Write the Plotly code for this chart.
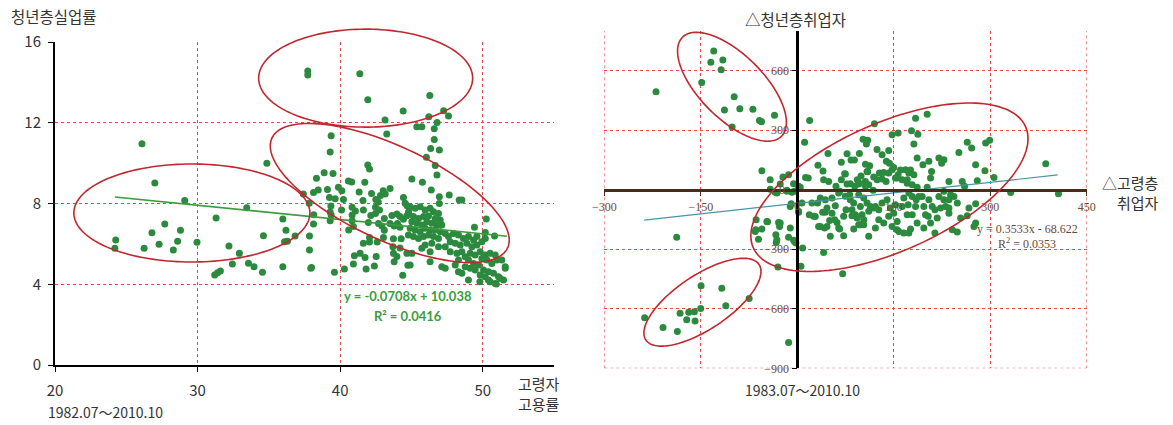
import numpy as np
import plotly.graph_objects as go

# ---------------- data ----------------
# Left panel: elderly employment rate (%) vs youth unemployment rate (%), 1982.07-2010.10
elder_emp_rate = [
    26.1, 27.0, 29.1, 24.26, 24.2, 26.25, 26.8, 27.3, 27.7, 28.3, 28.6, 28.8, 29.96, 31.3, 31.2, 31.4,
    31.6, 32.2, 32.44, 32.93, 33.45, 33.57, 33.96, 34.55, 34.62, 35.98, 35.98, 36.2, 36.1, 36.3, 36.84, 34.86,
    37.73, 37.73, 41.38, 41.94, 46.29, 44.42, 43.15, 47.26, 47.6, 46.22, 46.8, 45.38, 45.73, 46.6,
    43.27, 39.37, 39.3, 41.94, 42.06, 38.88, 39.5, 38.34, 40.58, 40.81, 41.73, 37.42, 38.13, 38.46, 39.11,
    39.88, 40.12, 41.33, 42.2, 43.02, 43.5, 42.83, 43.16, 39.25, 39.65, 40.23, 41.6, 42.5, 42.67, 44.44,
    37.83, 39.35, 40.84, 42.48, 44.7, 39.3, 40.1, 41.07, 41.63, 42.76, 44.8, 38.15, 39.37, 40.84, 42.15,
    42.48, 43.1, 43.63, 43.98, 44.2, 44.44, 44.68, 40.84, 40.93, 41.98, 42.69, 42.93, 43.1, 43.5, 43.79,
    44.02, 44.2, 38.13, 39.3, 37.85, 40.6, 43.04, 42.06, 43.74, 44.28, 41.63, 42.06, 42.6, 43.7, 44.2,
    37.85, 41.4, 41.0, 41.75, 42.53, 43.74, 43.98, 40.93, 43.79, 42.4, 41.82, 37.99, 39.6, 40.3, 44.39,
    44.75, 37.94,
    46.6, 46.35, 46.96, 46.05, 46.67, 46.79, 45.03, 45.77, 46.39, 46.96, 47.65, 48.35, 48.54, 50.25, 49.42,
    50.18, 50.83, 50.18, 46.96,
    44.56, 44.91, 45.26, 45.61, 45.96, 46.31, 46.55, 46.9, 44.79, 45.14, 45.5, 45.85, 46.2, 46.67, 47.02,
    45.03, 45.38, 45.73, 46.08, 46.43, 46.78, 47.13, 44.91, 45.26, 45.61, 45.96, 46.31, 46.67, 47.02, 44.79,
    45.14, 45.5, 45.85, 46.2, 46.55, 46.9, 47.37, 47.6, 47.95, 48.3, 48.65, 49.0, 49.36, 49.59, 49.94,
    47.72, 48.07, 48.42, 48.89, 49.24, 49.59, 47.37, 46.9, 46.43, 45.96, 46.31, 45.73, 45.03, 47.72, 48.19,
    48.54, 48.77, 49.12, 49.47, 49.82, 50.17, 50.52, 50.88, 51.0, 51.34, 51.58, 49.94, 50.29, 50.64, 49.0,
    49.36, 49.71, 48.3, 48.07, 48.77, 49.12, 49.47, 50.06, 50.41, 50.76, 51.11, 51.46, 50.52, 50.88, 50.17,
    49.82, 48.3, 48.54, 47.13, 47.37, 46.31, 44.91, 44.68,
    49.0, 49.8, 50.95, 50.4, 51.23, 51.58,
]
youth_unemp_rate = [
    10.96, 9.01, 8.15, 6.19, 5.78, 5.78, 6.55, 5.98, 6.98, 5.70, 6.13, 6.67, 6.08, 7.28, 4.46, 4.57,
    4.66, 5.89, 5.0, 5.53, 7.79, 5.04, 4.87, 4.59, 6.40, 7.23, 4.87, 6.67, 6.1, 6.13, 6.39, 9.99,
    14.56, 14.36, 14.43, 13.14, 13.35, 12.58, 12.14, 12.6, 12.33, 12.3, 12.01, 11.8, 11.8, 11.7,
    11.44, 11.36, 10.55, 9.91, 9.71, 9.52, 9.49, 9.25, 9.11, 9.06, 9.05, 8.47, 8.55, 8.67, 8.69,
    8.80, 8.63, 8.57, 8.50, 8.63, 8.74, 8.40, 8.47, 8.30, 8.24, 8.20, 8.15, 8.20, 8.07, 8.30,
    8.01, 7.88, 7.81, 7.81, 7.89, 7.58, 7.68, 7.63, 7.68, 7.68, 7.59, 7.44, 7.43, 7.43, 7.41,
    7.51, 7.26, 7.41, 7.48, 7.35, 7.22, 7.39, 7.15, 6.86, 7.06, 7.01, 6.88, 6.68, 7.01, 6.88,
    7.01, 6.82, 6.98, 7.15, 6.39, 6.69, 6.32, 6.32, 6.25, 6.25, 6.03, 6.09, 6.09, 5.86, 5.80,
    5.70, 5.53, 5.41, 5.33, 5.37, 5.53, 5.37, 5.00, 5.12, 4.90, 4.75, 4.83, 4.59, 4.75, 4.44,
    4.94, 4.79,
    11.17, 10.73, 10.65, 10.29, 9.88, 9.41, 9.21, 9.05, 8.67, 8.34, 8.42, 8.17, 8.17, 7.23, 6.82,
    6.56, 6.39, 6.27, 8.0,
    8.01, 7.84, 7.76, 7.84, 7.68, 7.76, 7.59, 7.51, 7.51, 7.35, 7.26, 7.35, 7.38, 7.26, 7.18,
    7.1, 7.02, 6.93, 7.1, 7.02, 6.93, 6.93, 6.77, 6.69, 6.6, 6.77, 6.69, 6.69, 6.6, 6.44,
    6.36, 6.27, 6.36, 6.44, 6.36, 6.27, 6.52, 6.36, 6.52, 6.44, 6.27, 6.36, 6.19, 6.36, 6.11,
    6.11, 6.03, 5.94, 6.03, 5.86, 5.94, 5.86, 5.86, 6.03, 5.94, 5.61, 5.78, 5.53, 5.61, 5.53,
    5.61, 5.36, 5.53, 5.45, 5.61, 5.45, 5.53, 5.45, 5.2, 5.2, 4.87, 5.28, 5.2, 5.03, 5.2,
    5.03, 4.95, 5.2, 4.95, 4.87, 4.79, 4.7, 4.7, 4.62, 4.54, 4.37, 4.21, 4.13, 4.04, 4.37,
    4.46, 4.62, 4.54, 4.87, 4.79, 5.12, 4.95, 5.53,
    4.21, 4.13, 4.01, 4.21, 4.29, 4.79,
]

# Right panel: change in elderly employment vs change in youth employment (thousand), 1983.07-2010.10
d_elder_emp = [
    -129.8, -134.4, -115.7, -118.4, -148.5, -219.6, -98.1, -113.2, -89.3, -69.0, -58.7, -55.6, -35.4, -101.3,
    19.2, 11.4, -55.0, -42.1, -22.3, -13.5, -26.5, -5.7, -42.0, -16.0, -8.3, -31.6, 2.0, 12.9, 17.1, 32.2,
    40.0, 47.8, 41.0, 48.8, 68.5, 77.4, 83.6, 88.8, 74.8, 96.6, 106.0, 109.5, 102.3, 109.5, 107.5, 120.0,
    124.0, 112.6, 77.4, 95.5, 99.2, 66.0, 81.5, 106.0, 118.0,
    131.9, 142.2, 147.4, 156.8, 138.6, 143.3, 150.0, 127.7, 134.4, 142.2, 147.4, 152.6, 156.8, 131.8, 138.1,
    118.9, 124.1, 108.5, 105.9, 111.1, 93.4, 96.5, 82.5, 89.3, 73.7, 68.5, 60.2, 64.4, 74.7, 82.5,
    87.7, 95.5, 103.3, 108.5, 113.7, 98.1, 85.1, 90.3, 100.7, 103.3, 111.1, 121.5, 126.7, 131.8, 139.6,
    144.8, 152.6, 126.7, 134.4, 142.2, 150.0, 147.4, 155.2, 121.5, 111.1, 95.5, 72.1, 72.1, 64.4, 58.1,
    51.4, 42.5, 33.2, 54.0, 46.2, 59.2, 39.5, 28.0, 18.7, 31.6, 43.6, 22.8, 7.2, 2.0, 35.8,
    54.0, -4.2, -9.4, 2.0, 4.6, -34.3, -16.1, -63.9, -55.1, -46.2, -29.1, -27.5, -33.3, -31.7, -10.9,
    -13.5, -4.2, -2.1, -60.3, -64.4, 8.3, -30.1, 5.7, 41.0, 70.6,
    -187.4, -149.5, -117.3, -74.8, -111.1, -150.1, -159.9, -158.9, -168.7, -171.9, -182.2, -237.3, -208.7,
    -186.4, -13.5, -10.9, 2.1, -47.3, -26.5, -65.4, -32.7, -5.7, 25.4, 35.8, 46.2, 43.6, 50.4, 61.8, 65.9,
    87.8, 98.1, 75.8, 85.1, 92.9, 103.3, 118.9,
    202.0, 183.9, 177.6, 187.5, 181.3, 264.3, 271.1, 292.9, 299.1, 251.3, 277.3, 291.8, 305.9, 279.9, 256.5,
    260.2, 235.8, 220.2, 228.0, 224.4, 204.6, 195.3, 208.8, 207.2, 186.4, 176.1, 168.3, 181.3, 173.5, 160.5,
    155.3, 163.1, 170.9, 178.7, 186.4, 202.0, 228.0, 238.4, 220.2, 228.0, 235.8, 230.6, 235.8, 222.8, 209.8,
    214.0, 204.6, 194.2, 184.9, 189.0, 173.5, 178.7, 165.7, 163.1, 172.4, 183.9, 196.8, 199.4, 203.6, 217.6,
    207.2, 235.8, 254.0, 264.3, 266.9, 277.3, 248.8, 243.6, 277.3, 241.0, 248.8, 214.0, 196.8, 186.4, 176.1,
    157.9, 165.7, 173.5, 155.3, 170.9, 178.7, 331.8, 386.3, 406.1, 274.7, 171.0,
]
d_youth_emp = [
    699, 642, 654, 605, 540, 494, 469, 402, 408, 405, 349, 343, 375, 316,
    349, 239, 96, 50, 64, 76, 29, 30, 3, -3, -13, -17, 17, 62, 59, 123,
    94, 183, 50, 42, 138, 181, 150, 150, 79, 183, 129, 91, 254, 249, 230, 333,
    203, 121, 29, 29, 69, -8, -25, 17, -3,
    176, 198, 277, 286, 143, 134, 112, 84, 87, 84, 101, 59, 76, 54, 42,
    64, 50, 92, 42, 25, 50, 33, 30, 17, 81, 50, 17, -17, -33, -50,
    -67, -25, -42, -67, -84, -84, -101, -126, -126, -151, -109, -84, -101, -67, -50,
    -92, -76, -151, -168, -134, -118, -185, -202, -193, -235, -177, -134, -232, -193, -151,
    -235, -193, -185, -118, -92, -81, -114, -135, -126, -67, -50, -67, -67, -109, -42,
    -42, -8, -71, 8, 12, -13, -8, -151, -198, -161, -165, -185, -227, -252, -193,
    -239, -261, -269, -249, -202, -294, -390, -386, -316, -424,
    -240, -484, -496, -548, -585, -598, -615, -662, -617, -655, -622, -645, -694,
    -714, -770, -84, -113, -160, -168, -210, -266, -255, -134, -185, -185, -114, -155, -165, -198,
    -198, -176, -101, -131, -143, -176, -92,
    380, 360, 297, 279, 230, 239, 210, 235, 249, 188, 126, 96, 62, 45, 42,
    17, 42, 160, 151, 134, 143, 126, 92, 59, 160, 99, 101, 75, 84, 99,
    59, 50, 33, 25, 13, 13, -8, -25, -34, -50, -50, -84, -92, -92, -84,
    -101, -50, -34, -50, -34, -17, -34, -42, -84, -76, -84, -84, -126, -134, -143,
    -168, -118, -143, -131, -92, -71, -67, -34, -168, -202, -213, -218, -193, -168, -198,
    -210, -218, -218, -160, -126, -126, -14, 131, -20, -185, 50,
]

# Linear fits: slope, intercept, R^2 and the x span the fitted line covers
left_fit = (-0.0708, 10.038, 0.0416)
left_fit_span = [24.2, 51.7]
right_fit = (0.3533, -68.622, 0.0353)
right_fit_span = [-238.0, 405.0]

left_xticks = [20, 30, 40, 50]
left_yticks = [0, 4, 8, 12, 16]
# zero is labelled separately where the two axes cross
right_xticks = [-300, -150, 150, 300, 450]
right_yticks = [-900, -600, -300, 300, 600]

# ---------------- layout geometry ----------------
W, H = 1173, 425
L_RX, L_RY = [20, 55], [0, 16]
R_RX, R_RY = [-300, 450], [-900, 800]
L_DX = [55 / W, 554 / W]
L_DY = [(H - 365) / H, (H - 42) / H]
R_DX = [604.3 / W, 1086.7 / W]
R_DY = [(H - 368.3) / H, (H - 31) / H]

GREEN = "#2b8a3e"
RED_ELL = "#c1272d"
GRID = "#e8474c"
BROWN = "#4a2c1c"
TICK_BROWN = "#6b4a36"
KFONT = "Noto Sans CJK KR"


def data_to_paper(x, y, dx, dy, rx, ry):
    px = dx[0] + (x - rx[0]) / (rx[1] - rx[0]) * (dx[1] - dx[0])
    py = dy[0] + (y - ry[0]) / (ry[1] - ry[0]) * (dy[1] - dy[0])
    return px, py


def ellipse_path(cx, cy, a_px, b_px, ang_deg, n=160):
    """Closed ellipse path in paper coordinates (centre in paper units, axes/tilt in pixels)."""
    t = np.linspace(0, 2 * np.pi, n)
    phi = np.radians(ang_deg)
    ox = a_px * np.cos(t) * np.cos(phi) - b_px * np.sin(t) * np.sin(phi)
    oy = a_px * np.cos(t) * np.sin(phi) + b_px * np.sin(t) * np.cos(phi)
    xs = cx + ox / W
    ys = cy + oy / H
    pts = [f"{x:.5f},{y:.5f}" for x, y in zip(xs, ys)]
    return "M " + " L ".join(pts) + " Z"


def paper(xp, yp):
    return xp / W, (H - yp) / H


fig = go.Figure()

# Left scatter + fitted line
fig.add_trace(go.Scatter(x=elder_emp_rate, y=youth_unemp_rate, mode="markers",
                         marker=dict(size=7, color=GREEN), xaxis="x", yaxis="y", hoverinfo="skip"))
lx = np.array(left_fit_span)
fig.add_trace(go.Scatter(x=lx, y=left_fit[0] * lx + left_fit[1], mode="lines",
                         line=dict(color="#3c9c3c", width=1.6), xaxis="x", yaxis="y", hoverinfo="skip"))

# Right scatter + fitted line
fig.add_trace(go.Scatter(x=d_elder_emp, y=d_youth_emp, mode="markers",
                         marker=dict(size=7, color=GREEN), xaxis="x2", yaxis="y2", hoverinfo="skip"))
rx = np.array(right_fit_span)
fig.add_trace(go.Scatter(x=rx, y=right_fit[0] * rx + right_fit[1], mode="lines",
                         line=dict(color="#4b93a6", width=1.2), xaxis="x2", yaxis="y2", hoverinfo="skip"))

# Border grid lines of the right panel (range edges)
shapes = []
for xv in (R_RX[0], R_RX[1]):
    shapes.append(dict(type="line", xref="x2", yref="y2", x0=xv, x1=xv, y0=R_RY[0], y1=R_RY[1],
                       line=dict(color=GRID, width=1, dash="dot"), layer="below"))
shapes.append(dict(type="line", xref="x2", yref="y2", x0=R_RX[0], x1=R_RX[1], y0=R_RY[0], y1=R_RY[0],
                   line=dict(color=GRID, width=1, dash="dot"), layer="below"))

# Ellipses grouping the point clusters: (centre x, centre y in data units, semi-axes px, tilt deg)
left_ellipses = [(29.6, 7.53, 118, 49, 0), (41.79, 14.21, 107, 49, 0), (43.48, 8.52, 130, 47, -25)]
right_ellipses = [(-101.5, 519, 70, 32, -45), (-147.4, -567, 68, 27, 33.7), (143.3, 12.6, 149, 64, 24)]
for cx, cy, a, b, ang in left_ellipses:
    pcx, pcy = data_to_paper(cx, cy, L_DX, L_DY, L_RX, L_RY)
    shapes.append(dict(type="path", xref="paper", yref="paper", path=ellipse_path(pcx, pcy, a, b, ang),
                       line=dict(color=RED_ELL, width=1.6)))
for cx, cy, a, b, ang in right_ellipses:
    pcx, pcy = data_to_paper(cx, cy, R_DX, R_DY, R_RX, R_RY)
    shapes.append(dict(type="path", xref="paper", yref="paper", path=ellipse_path(pcx, pcy, a, b, ang),
                       line=dict(color=RED_ELL, width=1.6)))

grid_kw = dict(showgrid=True, gridcolor=GRID, gridwidth=1, griddash="dot", zeroline=False,
               automargin=False)

r_xpos = R_DY[0] + (0 - R_RY[0]) / (R_RY[1] - R_RY[0]) * (R_DY[1] - R_DY[0])
r_ypos = R_DX[0] + (0 - R_RX[0]) / (R_RX[1] - R_RX[0]) * (R_DX[1] - R_DX[0])

fig.update_layout(
    width=W, height=H, margin=dict(l=0, r=0, t=0, b=0, autoexpand=False),
    paper_bgcolor="white", plot_bgcolor="white", showlegend=False,
    xaxis=dict(domain=L_DX, range=L_RX, anchor="y", tickmode="array", tickvals=left_xticks,
               showline=True, linecolor="black", linewidth=2, ticks="outside", ticklen=5,
               tickcolor="black", tickfont=dict(family=KFONT, size=15, color="#333333"),
               ticklabelstandoff=6, **grid_kw),
    yaxis=dict(domain=L_DY, range=L_RY, anchor="x", tickmode="array", tickvals=left_yticks,
               showline=True, linecolor="black", linewidth=2, ticks="outside", ticklen=5,
               tickcolor="black", tickfont=dict(family=KFONT, size=15, color="#333333"),
               ticklabelstandoff=4, **grid_kw),
    xaxis2=dict(domain=R_DX, range=R_RX, anchor="free", position=r_xpos, tickmode="array",
                tickvals=right_xticks, showline=True, linecolor=BROWN, linewidth=2.5,
                ticks="outside", ticklen=5, tickcolor=BROWN,
                tickfont=dict(family="Liberation Serif", size=12, color=TICK_BROWN), **grid_kw),
    yaxis2=dict(domain=R_DY, range=R_RY, anchor="free", position=r_ypos, tickmode="array",
                tickvals=right_yticks, showline=True, linecolor="black", linewidth=2.5,
                ticks="outside", ticklen=5, tickcolor="black",
                tickfont=dict(family="Liberation Serif", size=12, color=TICK_BROWN), **grid_kw),
    shapes=shapes,
)

annotations = []


def label(text, xp, yp, size=15, xanchor="center", align="center", color="#333333",
          family=KFONT, bold=False):
    x, y = paper(xp, yp)
    if bold:
        text = f"<b>{text}</b>"
    annotations.append(dict(text=text, x=x, y=y, xref="paper", yref="paper", xanchor=xanchor,
                            yanchor="middle", align=align, showarrow=False,
                            font=dict(family=family, size=size, color=color)))


label("청년층실업률", 9, 16, xanchor="left", size=15.5)
label("고령자<br>고용률", 539, 393, align="center")
label("1982.07～2010.10", 46, 412, size=14, xanchor="left")
label(f"y = {left_fit[0]}x + {left_fit[1]}", 408, 296, size=13, color="#3c9c3c", family="Lato", bold=True)
label(f"R² = {left_fit[2]}", 408, 316, size=13, color="#3c9c3c", family="Lato", bold=True)

label("△청년층취업자", 795, 19, size=15.5)
label("△고령층<br>취업자", 1161, 192, xanchor="right", align="right")
label("1983.07～2010.10", 802, 390, size=14)
label(f"y = {right_fit[0]}x - {abs(right_fit[1])}", 1027, 229, size=12, color=TICK_BROWN,
      family="Liberation Serif")
label(f"R<sup>2</sup> = {right_fit[2]}", 1027, 243, size=12, color=TICK_BROWN, family="Liberation Serif")

# zero labels at the axis crossing
x0p, y0p = data_to_paper(0, 0, R_DX, R_DY, R_RX, R_RY)
annotations.append(dict(text="0", x=x0p, y=y0p, xref="paper", yref="paper", xanchor="center",
                        yanchor="top", yshift=-7, showarrow=False,
                        font=dict(family="Liberation Serif", size=12, color=TICK_BROWN)))
annotations.append(dict(text="0", x=x0p, y=y0p, xref="paper", yref="paper", xanchor="right",
                        yanchor="middle", xshift=-10, showarrow=False,
                        font=dict(family="Liberation Serif", size=12, color=TICK_BROWN)))

fig.update_layout(annotations=annotations)

fig.write_html("out.html")
